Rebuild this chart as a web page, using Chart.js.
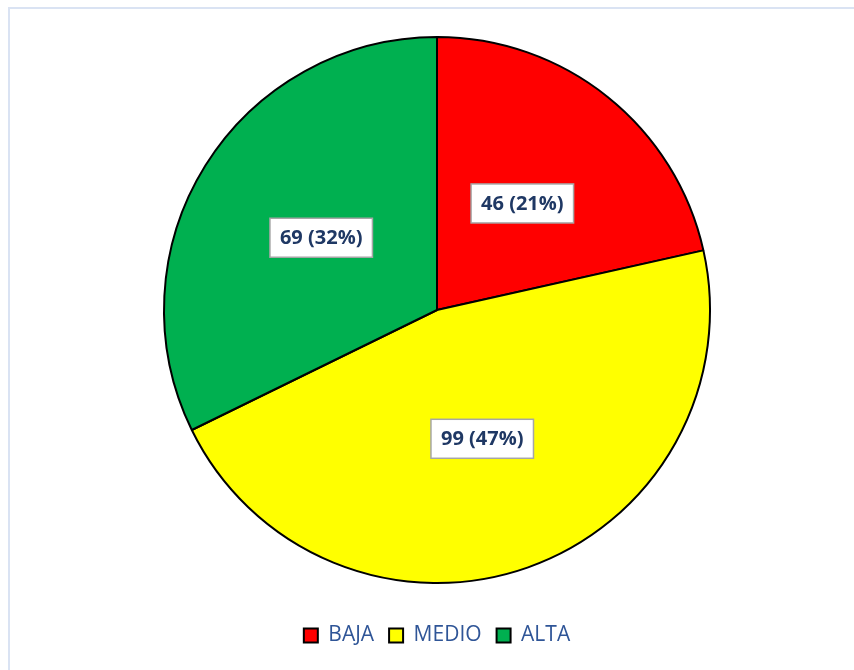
<!DOCTYPE html>
<html>
<head>
<meta charset="utf-8">
<script src="https://cdn.jsdelivr.net/npm/chart.js@4"></script>
<style>
  html, body { margin: 0; padding: 0; background: #fff; }
  #wrap { position: relative; width: 854px; height: 670px; overflow: hidden; }
  #frame { position: absolute; left: 8px; top: 7px; width: 900px; height: 700px; border: 2px solid #dae3f3; box-sizing: border-box; }
  #chart-pie { position: absolute; left: 0; top: 0; }
</style>
</head>
<body>
<div id="wrap">
  <div id="frame"></div>
  <canvas id="chart-pie" width="854" height="670"></canvas>
</div>
<script>
const categorias = ['BAJA', 'MEDIO', 'ALTA'];
const valores = [46, 99, 69];
const porcentajes = ['21%', '47%', '32%'];
const colores = ['#ff0000', '#ffff00', '#00b050'];

const chartPie = document.getElementById('chart-pie');

// etiquetas con caja blanca en el centro de cada porcion
const etiquetasPlugin = {
    id: 'etiquetas',
    afterDatasetsDraw(chart) {
        const ctx = chart.ctx;
        const meta = chart.getDatasetMeta(0);
        ctx.save();
        ctx.font = 'bold 20px "Open Sans", sans-serif';
        ctx.textAlign = 'center';
        ctx.textBaseline = 'middle';
        meta.data.forEach((arc, i) => {
            const pos = arc.tooltipPosition();
            const texto = valores[i] + ' (' + porcentajes[i] + ')';
            const w = ctx.measureText(texto).width + 20;
            const h = 39;
            ctx.fillStyle = '#ffffff';
            ctx.fillRect(pos.x - w / 2, pos.y - h / 2, w, h);
            ctx.strokeStyle = '#a6a6a6';
            ctx.lineWidth = 1.5;
            ctx.strokeRect(pos.x - w / 2, pos.y - h / 2, w, h);
            ctx.fillStyle = '#1f3864';
            ctx.fillText(texto, pos.x, pos.y + 1);
        });
        ctx.restore();
    }
};

const config = {
    type: 'pie',
    data: {
        labels: categorias,
        datasets: [{
            data: valores,
            backgroundColor: colores,
            borderColor: '#000000',
            borderWidth: 2,
            radius: 273
        }]
    },
    options: {
        responsive: false,
        animation: false,
        layout: {
            padding: { top: 10, left: 20, right: 0, bottom: 14 }
        },
        plugins: {
            legend: {
                position: 'bottom',
                labels: {
                    boxWidth: 14,
                    boxHeight: 14,
                    padding: 15,
                    color: '#2f5597',
                    font: { family: '"Open Sans", sans-serif', size: 21 }
                }
            },
            tooltip: { enabled: false }
        }
    },
    plugins: [etiquetasPlugin]
};
new Chart(chartPie, config);
</script>
</body>
</html>
